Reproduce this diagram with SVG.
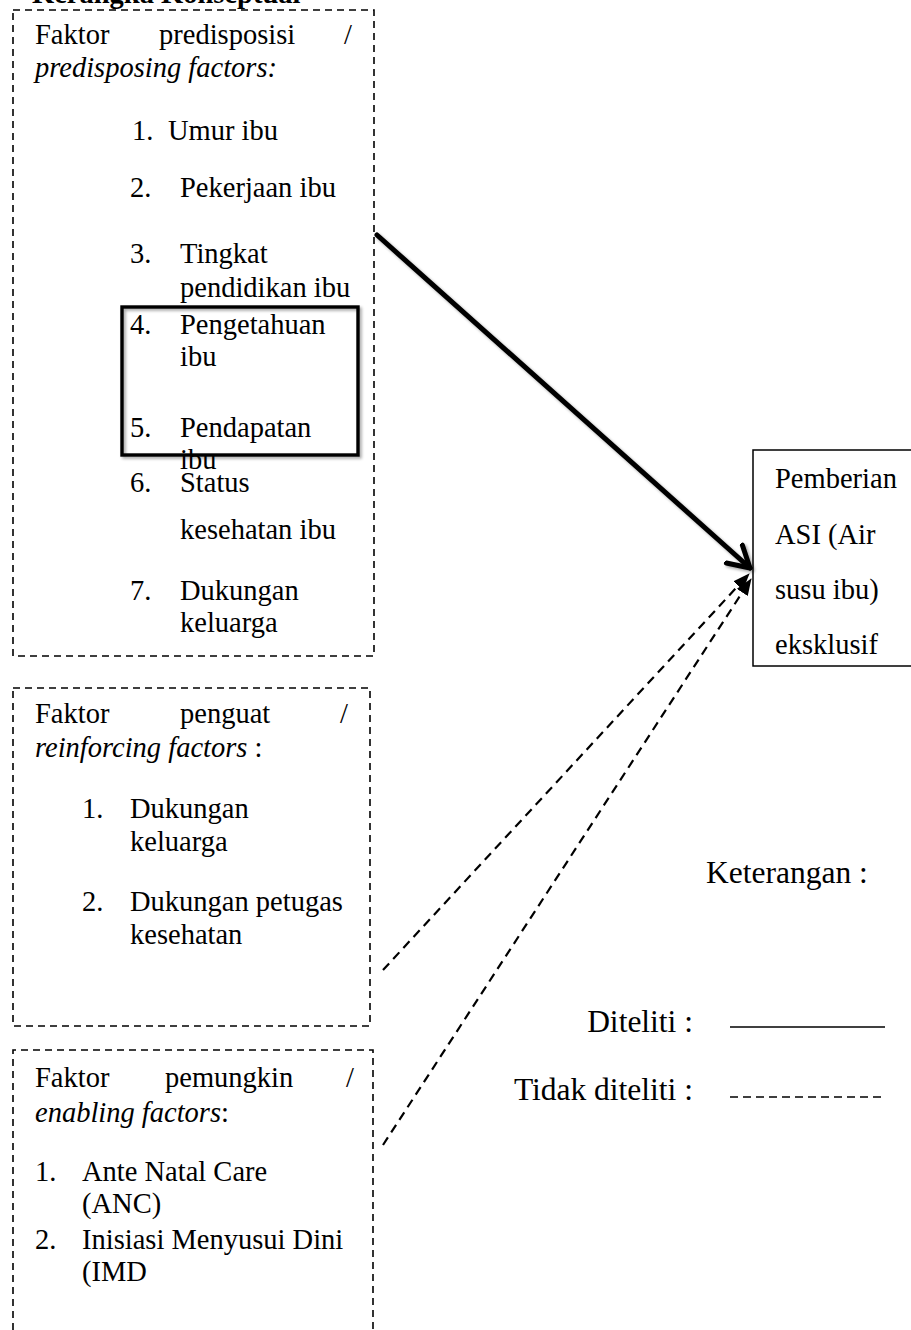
<svg xmlns="http://www.w3.org/2000/svg" width="911" height="1330" viewBox="0 0 911 1330">
<style>
text{font-family:"Liberation Serif","Times New Roman",serif;font-size:28.5px;fill:#000}
.b{font-weight:bold}
.i{font-style:italic}
.lg{font-size:31.5px}
.dbox{fill:none;stroke:#000;stroke-width:1.6;stroke-dasharray:7 5}
.solid{fill:none;stroke:#000;stroke-width:1.5}
.thick{fill:none;stroke:#000;stroke-width:3.4}
.arrowS{fill:none;stroke:#000;stroke-width:5;stroke-linecap:round}
.arrowD{fill:none;stroke:#000;stroke-width:2.2;stroke-dasharray:9 6}
</style>
<defs>
<marker id="openArrow" markerUnits="userSpaceOnUse" markerWidth="30" markerHeight="30" refX="23" refY="13" orient="auto" viewBox="0 0 30 26">
<path d="M2,1 L23,13 L2,25" fill="none" stroke="#000" stroke-width="5" stroke-linecap="round" stroke-linejoin="round"/>
</marker>
<marker id="fillArrow" markerUnits="userSpaceOnUse" markerWidth="17" markerHeight="13" refX="16" refY="6.5" orient="auto" viewBox="0 0 17 13">
<path d="M0,0 L17,6.5 L0,13 Z" fill="#000"/>
</marker>
<filter id="sh" x="-10%" y="-10%" width="120%" height="120%">
<feGaussianBlur in="SourceAlpha" stdDeviation="1.5"/>
<feOffset dx="1.5" dy="1.5" result="o"/>
<feComponentTransfer><feFuncA type="linear" slope="0.35"/></feComponentTransfer>
<feMerge><feMergeNode/><feMergeNode in="SourceGraphic"/></feMerge>
</filter>
</defs>

<g id="heading">
<text class="b" x="32" y="3">Kerangka Konseptual</text>
</g>

<g id="predisposing">
<rect class="dbox" x="13" y="10" width="361" height="646"/>
<text x="35" y="44">Faktor</text>
<text x="159" y="44">predisposisi</text>
<text x="352" y="44" text-anchor="end">/</text>
<text class="i" x="35" y="77">predisposing factors:</text>
<text x="132" y="140">1.</text><text x="168" y="140">Umur ibu</text>
<text x="130" y="197">2.</text><text x="180" y="197">Pekerjaan ibu</text>
<text x="130" y="263">3.</text><text x="180" y="263">Tingkat</text>
<text x="180" y="297">pendidikan ibu</text>
<text x="130" y="334">4.</text><text x="180" y="334">Pengetahuan</text>
<text x="180" y="366">ibu</text>
<text x="130" y="437">5.</text><text x="180" y="437">Pendapatan</text>
<text x="180" y="469">ibu</text>
<text x="130" y="492">6.</text><text x="180" y="492">Status</text>
<text x="180" y="539">kesehatan ibu</text>
<text x="130" y="600">7.</text><text x="180" y="600">Dukungan</text>
<text x="180" y="632">keluarga</text>
</g>

<g id="studied-box">
<rect class="thick" x="122" y="307" width="236" height="148" filter="url(#sh)"/>
</g>

<g id="reinforcing">
<rect class="dbox" x="13" y="688" width="357" height="338"/>
<text x="35" y="723">Faktor</text>
<text x="180" y="723">penguat</text>
<text x="348" y="723" text-anchor="end">/</text>
<text x="35" y="757"><tspan class="i">reinforcing factors</tspan> :</text>
<text x="82" y="818">1.</text><text x="130" y="818">Dukungan</text>
<text x="130" y="851">keluarga</text>
<text x="82" y="911">2.</text><text x="130" y="911">Dukungan petugas</text>
<text x="130" y="944">kesehatan</text>
</g>

<g id="enabling">
<path class="dbox" d="M13,1330 L13,1050 L373,1050 L373,1330"/>
<text x="35" y="1087">Faktor</text>
<text x="165" y="1087">pemungkin</text>
<text x="354" y="1087" text-anchor="end">/</text>
<text x="35" y="1122"><tspan class="i">enabling factors</tspan>:</text>
<text x="35" y="1181">1.</text><text x="82" y="1181">Ante Natal Care</text>
<text x="82" y="1213">(ANC)</text>
<text x="35" y="1249">2.</text><text x="82" y="1249">Inisiasi Menyusui Dini</text>
<text x="82" y="1281">(IMD</text>
</g>

<g id="outcome">
<rect class="solid" x="753" y="450" width="170" height="216"/>
<text x="775" y="488">Pemberian</text>
<text x="775" y="544">ASI (Air</text>
<text x="775" y="599">susu ibu)</text>
<text x="775" y="654">eksklusif</text>
</g>

<g id="connectors">
<line class="arrowS" x1="377" y1="235" x2="750" y2="568" marker-end="url(#openArrow)" filter="url(#sh)"/>
<line class="arrowD" x1="383" y1="970" x2="749" y2="574" marker-end="url(#fillArrow)"/>
<line class="arrowD" x1="383" y1="1145" x2="751" y2="579" marker-end="url(#fillArrow)"/>
</g>

<g id="legend">
<text class="lg" x="706" y="883">Keterangan :</text>
<text class="lg" x="693" y="1032" text-anchor="end">Diteliti :</text>
<line class="solid" x1="730" y1="1027" x2="885" y2="1027"/>
<text class="lg" x="693" y="1100" text-anchor="end">Tidak diteliti :</text>
<line x1="730" y1="1097" x2="886" y2="1097" stroke="#000" stroke-width="1.5" stroke-dasharray="8 5"/>
</g>
</svg>
